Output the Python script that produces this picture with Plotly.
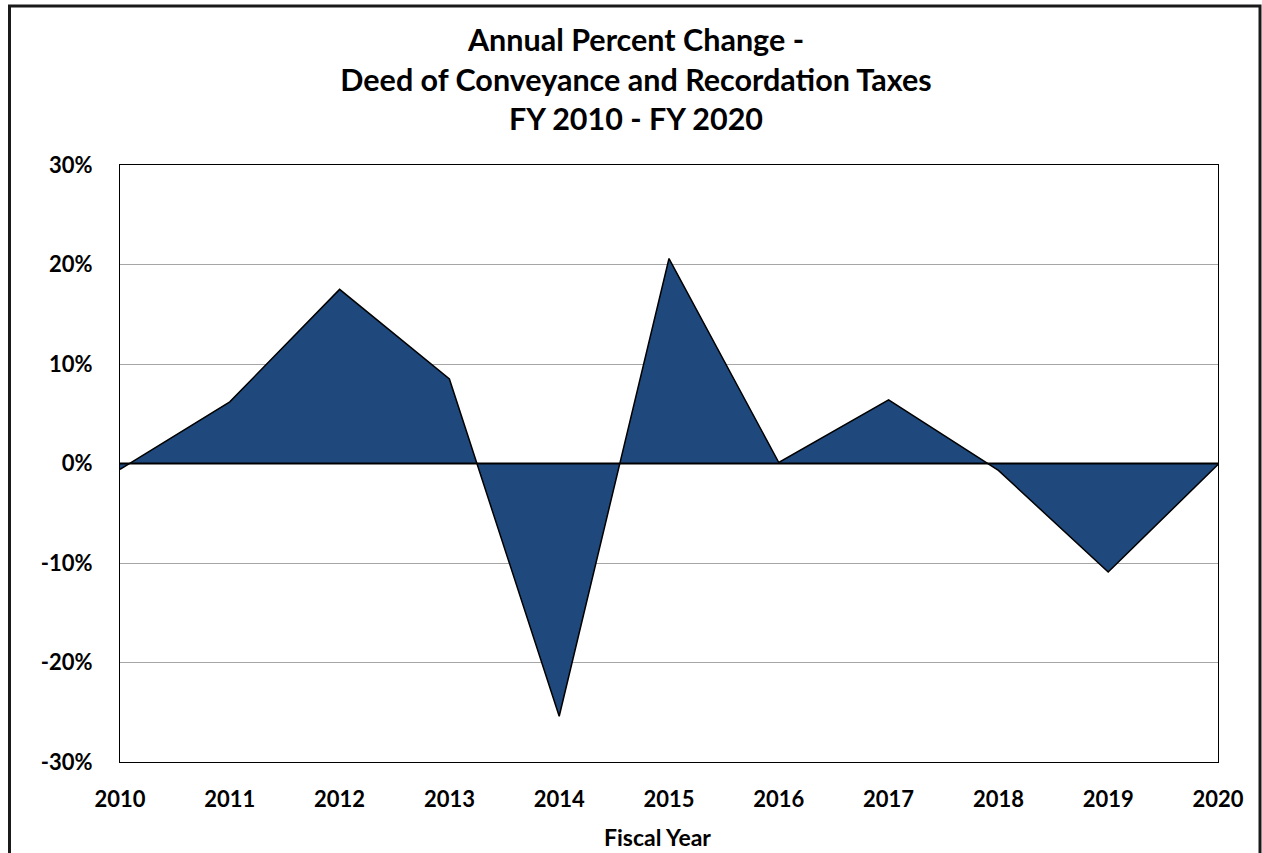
import plotly.graph_objects as go

years = [2010, 2011, 2012, 2013, 2014, 2015, 2016, 2017, 2018, 2019, 2020]
pct_change = [-0.6, 6.2, 17.5, 8.5, -25.4, 20.6, 0.1, 6.4, -0.7, -10.9, -0.1]
y_ticks = [-30, -20, -10, 0, 10, 20, 30]
y_tick_labels = [f"{v}%" for v in y_ticks]

FONT = "Lato"
W, H = 1262, 853
ML, MR, MT, MB = 120, 44, 165, 91
PW, PH = W - ML - MR, H - MT - MB

def px_x(p):
    return (p - ML) / PW

def px_y(p):
    return (H - MB - p) / PH

fig = go.Figure()
fig.add_trace(go.Scatter(
    x=years, y=pct_change, mode="lines", fill="tozeroy",
    fillcolor="#1F497D", line=dict(color="#000000", width=1.5),
    hoverinfo="x+y", showlegend=False,
))

fig.update_layout(
    width=W, height=H,
    margin=dict(l=ML, r=MR, t=MT, b=MB),
    paper_bgcolor="white", plot_bgcolor="white",
    font=dict(family=FONT, color="#000000"),
    title=dict(
        text="<b>Annual Percent Change -<br>Deed of Conveyance and Recordation Taxes<br>FY 2010 - FY 2020</b>",
        x=636 / W, xanchor="center", xref="container",
        y=1 - 51 / H, yanchor="middle",
        font=dict(family=FONT, size=30.5, color="#000000"),
    ),
    xaxis=dict(
        range=[years[0], years[-1]], tickvals=years,
        ticktext=[f"<b>{y}</b>" for y in years],
        tickfont=dict(family=FONT, size=22, color="#000000"),
        showgrid=False, zeroline=False,
        showline=True, linecolor="#000000", linewidth=1, mirror=True,
        ticks="", ticklabelstandoff=18,
    ),
    yaxis=dict(
        range=[-30, 30], tickvals=y_ticks,
        ticktext=[f"<b>{t}</b>" for t in y_tick_labels],
        tickfont=dict(family=FONT, size=22, color="#000000"),
        showgrid=True, gridcolor="#A6A6A6", gridwidth=1,
        zeroline=False,
        showline=True, linecolor="#000000", linewidth=1, mirror=True,
        ticks="", ticklabelstandoff=22,
    ),
    annotations=[
        dict(text="<b>Fiscal Year</b>", xref="paper", yref="paper",
             x=px_x(657), y=px_y(837), xanchor="center", yanchor="middle",
             showarrow=False, font=dict(family=FONT, size=23, color="#000000")),
    ],
    shapes=[
        dict(type="line", xref="paper", yref="y", x0=0, x1=1, y0=0, y1=0,
             line=dict(color="#000000", width=2), layer="above"),
        dict(type="rect", xref="paper", yref="paper",
             x0=px_x(9.5), x1=px_x(1260), y0=px_y(860), y1=px_y(6),
             line=dict(color="#1a1a1a", width=3), fillcolor="rgba(0,0,0,0)", layer="above"),
    ],
)

fig.write_html("out.html")
